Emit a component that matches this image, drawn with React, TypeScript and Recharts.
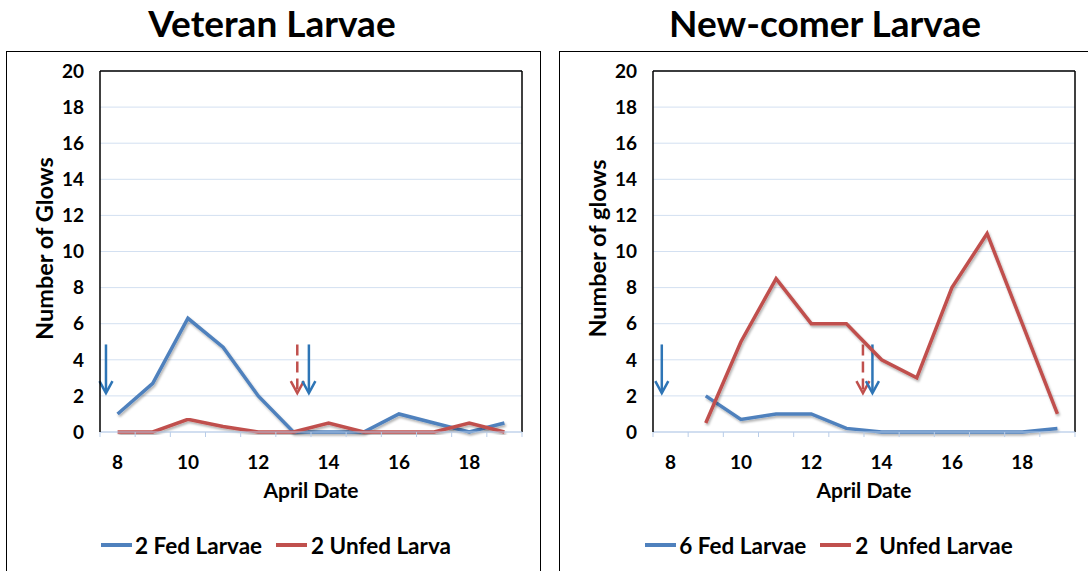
import React from 'react';
import { LineChart, Line, XAxis, YAxis, CartesianGrid, ReferenceLine, Legend } from 'recharts';

// ---- data ----
const dates = [8, 9, 10, 11, 12, 13, 14, 15, 16, 17, 18, 19];
const veteranFed = [1, 2.7, 6.3, 4.7, 2, 0, 0, 0, 1, 0.5, 0, 0.5];
const veteranUnfed = [0, 0, 0.7, 0.3, 0, 0, 0.5, 0, 0, 0, 0.5, 0];
const newcomerFed = [null, 2, 0.7, 1, 1, 0.2, 0, 0, 0, 0, 0, 0.2];
const newcomerUnfed = [null, 0.5, 5, 8.5, 6, 6, 4, 3, 8, 11, 6, 1];

const yTicks = [0, 2, 4, 6, 8, 10, 12, 14, 16, 18, 20];
const xTickValues = [7.5, 8, 8.5, 9, 9.5, 10, 10.5, 11, 11.5, 12, 12.5, 13, 13.5, 14, 14.5, 15, 15.5, 16, 16.5, 17, 17.5, 18, 18.5, 19, 19.5];
const xLabelTicks = [8, 10, 12, 14, 16, 18];
const xDomain = [7.5, 19.5];

// arrow annotations: date position, top value, tip value, which series
const veteranArrows = [
  { x: 7.67, top: 4.85, tip: 2.15, kind: 'fed' },
  { x: 13.11, top: 4.85, tip: 2.15, kind: 'unfed' },
  { x: 13.44, top: 4.85, tip: 2.15, kind: 'fed' },
];
const newcomerArrows = [
  { x: 7.75, top: 4.85, tip: 2.15, kind: 'fed' },
  { x: 13.47, top: 4.85, tip: 2.15, kind: 'unfed' },
  { x: 13.74, top: 4.85, tip: 2.15, kind: 'fed' },
];

// ---- styles ----
const FONT = 'Lato, "Open Sans", sans-serif';
const BLUE = '#4F81BD';
const RED = '#C0504D';
const ARROW_BLUE = '#2E75B6';
const GRID = '#D3E0F1';
const AXIS_BLUE = '#B9CDE8';

const build = (fed: (number | null)[], unfed: (number | null)[]) =>
  dates.map((d, i) => ({ date: d, fed: fed[i], unfed: unfed[i] }));

const XTick = (props: any) => {
  const { x, y, payload } = props;
  const v = payload.value;
  if (v % 1 !== 0) {
    return <line x1={x} y1={y} x2={x} y2={y + 5} stroke={AXIS_BLUE} strokeWidth={1} />;
  }
  if (xLabelTicks.includes(v)) {
    return (
      <text x={x} y={y + 37} textAnchor="middle" fontFamily={FONT} fontWeight={700} fontSize={19} fill="#000">
        {v}
      </text>
    );
  }
  return <g />;
};

const ArrowShape = (props: any) => {
  const { x1, y1, x2, y2, stroke, strokeDasharray } = props;
  const top = Math.min(y1, y2);
  const tip = Math.max(y1, y2);
  return (
    <g>
      <line x1={x1} y1={top} x2={x2} y2={tip - 2} stroke={stroke} strokeWidth={2.5} strokeDasharray={strokeDasharray} />
      <polyline
        points={`${x2 - 6.5},${tip - 12} ${x2},${tip} ${x2 + 6.5},${tip - 12}`}
        fill="none"
        stroke={stroke}
        strokeWidth={2.5}
      />
    </g>
  );
};

const LegendContent = ({ fedName, unfedName }: { fedName: string; unfedName: string }) => (
  <div
    style={{
      display: 'flex',
      justifyContent: 'center',
      alignItems: 'center',
      height: 30,
      paddingLeft: 8,
      fontFamily: FONT,
      fontWeight: 700,
      fontSize: 22.5,
      color: '#000',
      whiteSpace: 'pre',
    }}
  >
    <span style={{ display: 'inline-block', width: 31, height: 3.5, background: BLUE, marginRight: 3 }} />
    <span>{fedName}</span>
    <span style={{ display: 'inline-block', width: 31, height: 3.5, background: RED, marginLeft: 14, marginRight: 4 }} />
    <span>{unfedName}</span>
  </div>
);

type PanelProps = {
  left: number;
  title: string;
  yLabel: string;
  fed: (number | null)[];
  unfed: (number | null)[];
  fedName: string;
  unfedName: string;
  arrows: { x: number; top: number; tip: number; kind: string }[];
};

const Panel = ({ left, title, yLabel, fed, unfed, fedName, unfedName, arrows }: PanelProps) => {
  const data = build(fed, unfed);
  return (
    <div style={{ position: 'absolute', left, top: 0, width: 544, height: 571 }}>
      <div
        style={{
          position: 'absolute',
          left: 0,
          top: 1.5,
          width: 544,
          textAlign: 'center',
          fontFamily: FONT,
          fontWeight: 700,
          fontSize: 37,
          lineHeight: '42px',
          color: '#000',
        }}
      >
        {title}
      </div>
      <div style={{ position: 'absolute', left: 0, top: 0 }}>
        <LineChart width={544} height={571} data={data} margin={{ top: 71, right: 22, left: 0, bottom: 39 }}>
          <CartesianGrid horizontal vertical={false} stroke={GRID} strokeWidth={1} />
          <XAxis
            dataKey="date"
            type="number"
            domain={xDomain}
            ticks={xTickValues}
            interval={0}
            tickLine={false}
            tickSize={0}
            tickMargin={0}
            height={70}
            axisLine={{ stroke: AXIS_BLUE, strokeWidth: 1 }}
            tick={(p: any) => <XTick {...p} />}
            label={(p: any) => {
              const vb = p.viewBox;
              return (
                <text
                  x={vb.x + vb.width / 2}
                  y={vb.y + 66}
                  textAnchor="middle"
                  fontFamily={FONT}
                  fontWeight={700}
                  fontSize={21}
                  fill="#000"
                >
                  April Date
                </text>
              );
            }}
          />
          <YAxis
            type="number"
            domain={[0, 20]}
            ticks={yTicks}
            interval={0}
            width={100}
            tickLine={false}
            tickMargin={10}
            axisLine={{ stroke: '#000', strokeWidth: 1.5 }}
            tick={{ fontFamily: FONT, fontWeight: 700, fontSize: 19, fill: '#000' }}
            label={(p: any) => {
              const vb = p.viewBox;
              const cx = vb.x + 43.5;
              const cy = vb.y + vb.height / 2 - 3;
              return (
                <text
                  x={cx}
                  y={cy}
                  transform={`rotate(-90 ${cx} ${cy})`}
                  textAnchor="middle"
                  dominantBaseline="central"
                  fontFamily={FONT}
                  fontWeight={700}
                  fontSize={23.5}
                  fill="#000"
                >
                  {yLabel}
                </text>
              );
            }}
          />
          <ReferenceLine y={20} stroke="#000" strokeWidth={1.5} />
          <ReferenceLine x={19.5} stroke="#000" strokeWidth={1.5} />
          {arrows.map((a, i) => (
            <ReferenceLine
              key={i}
              segment={[
                { x: a.x, y: a.top },
                { x: a.x, y: a.tip },
              ]}
              stroke={a.kind === 'fed' ? ARROW_BLUE : RED}
              strokeDasharray={a.kind === 'fed' ? undefined : '11 6'}
              shape={(sp: any) => <ArrowShape {...sp} />}
            />
          ))}
          <Line
            type="linear"
            dataKey="fed"
            name={fedName}
            stroke={BLUE}
            strokeWidth={3.5}
            dot={false}
            activeDot={false}
            isAnimationActive={false}
            filter="url(#lineShadow)"
          />
          <Line
            type="linear"
            dataKey="unfed"
            name={unfedName}
            stroke={RED}
            strokeWidth={3.5}
            dot={false}
            activeDot={false}
            isAnimationActive={false}
            filter="url(#lineShadow)"
          />
          <Legend
            verticalAlign="bottom"
            height={30}
            content={() => <LegendContent fedName={fedName} unfedName={unfedName} />}
            wrapperStyle={{ position: 'absolute', left: 0, top: 530, width: 544, height: 30 }}
          />
        </LineChart>
      </div>
    </div>
  );
};

export default function App() {
  return (
    <div
      style={{
        position: 'absolute',
        left: 0,
        top: 0,
        width: 1088,
        height: 571,
        overflow: 'hidden',
        background: '#fff',
      }}
    >
      <svg width={0} height={0} style={{ position: 'absolute' }}>
        <defs>
          <filter id="lineShadow" x="-10%" y="-10%" width="120%" height="130%">
            <feDropShadow dx="1.2" dy="2" stdDeviation="1.2" floodColor="#000" floodOpacity="0.3" />
          </filter>
        </defs>
      </svg>
      <div
        style={{
          position: 'absolute',
          left: 6,
          top: 51,
          width: 533,
          height: 540,
          border: '1.5px solid #000',
        }}
      />
      <div
        style={{
          position: 'absolute',
          left: 559,
          top: 51,
          width: 560,
          height: 540,
          border: '1.5px solid #000',
        }}
      />
      <Panel
        left={0}
        title="Veteran Larvae"
        yLabel="Number of Glows"
        fed={veteranFed}
        unfed={veteranUnfed}
        fedName="2 Fed Larvae"
        unfedName="2 Unfed Larva"
        arrows={veteranArrows}
      />
      <Panel
        left={553}
        title="New-comer Larvae"
        yLabel="Number of glows"
        fed={newcomerFed}
        unfed={newcomerUnfed}
        fedName="6 Fed Larvae"
        unfedName="2  Unfed Larvae"
        arrows={newcomerArrows}
      />
    </div>
  );
}
